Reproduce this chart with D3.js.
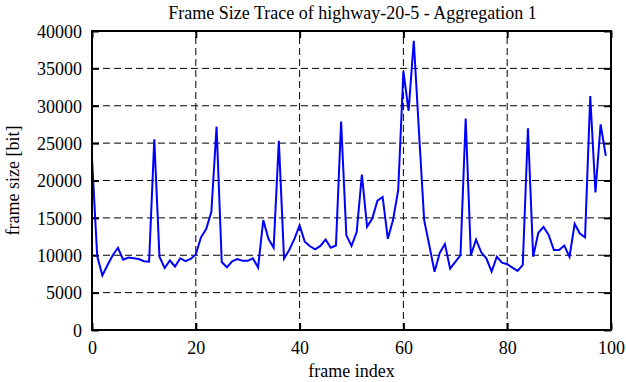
<!DOCTYPE html>
<html>
<head>
<meta charset="utf-8">
<script src="https://cdn.jsdelivr.net/npm/d3@7"></script>
<style>
    body { margin: 0; background: #fff; }
    text { font-family: "Liberation Serif", "DejaVu Serif", serif; }
</style>
</head>
<body>
<svg id="chart" width="626" height="382"></svg>
<script>
// frame size trace, one value per frame (bit)
var frames = d3.range(0, 100);
var frameSizes = [
    23000, 9900, 7300, 8700, 10000, 11000, 9400, 9700, 9600, 9500,
    9200, 9150, 25500, 9800, 8300, 9300, 8500, 9600, 9200, 9500,
    10100, 12400, 13500, 15800, 27200, 9100, 8400, 9200, 9500, 9250,
    9250, 9600, 8350, 14700, 12200, 11000, 25300, 9550, 10700, 12200,
    14000, 11800, 11200, 10800, 11250, 12100, 11000, 11300, 27900, 12700,
    11250, 13100, 20800, 13800, 14900, 17300, 17800, 12200, 14700, 18700,
    34600, 29300, 38700, 26500, 14700, 11300, 7800, 10300, 11500, 8200,
    9100, 10000, 28300, 10000, 12100, 10400, 9550, 7800, 9800, 9000,
    8800, 8350, 7900, 8700, 27000, 9800, 13000, 13800, 12700, 10700,
    10700, 11300, 9800, 14200, 12900, 12400, 31300, 18400, 27500, 23300
];
var xTicks = [0, 20, 40, 60, 80, 100];
var yTicks = [0, 5000, 10000, 15000, 20000, 25000, 30000, 35000, 40000];

var title = "Frame Size Trace of highway-20-5 - Aggregation 1";
var xLabel = "frame index";
var yLabel = "frame size [bit]";

var margin = {left: 92, right: 15, top: 31, bottom: 52};
var width = 626, height = 382;

var svg = d3.select("#chart");

var x = d3.scaleLinear()
    .domain([0, 100])
    .range([margin.left, width - margin.right]);
var y = d3.scaleLinear()
    .domain([0, 40000])
    .range([height - margin.bottom, margin.top]);

// dashed grid
svg.append("g")
    .selectAll("line")
    .data(yTicks.slice(1, -1))
    .enter()
    .append("line")
    .attr("x1", x(0)).attr("x2", x(100))
    .attr("y1", function(d) { return y(d); })
    .attr("y2", function(d) { return y(d); })
    .attr("stroke", "#000")
    .attr("stroke-width", 1)
    .attr("stroke-dasharray", "7,4");

svg.append("g")
    .selectAll("line")
    .data(xTicks.slice(1, -1))
    .enter()
    .append("line")
    .attr("y1", y(0)).attr("y2", y(40000))
    .attr("x1", function(d) { return x(d); })
    .attr("x2", function(d) { return x(d); })
    .attr("stroke", "#000")
    .attr("stroke-width", 1)
    .attr("stroke-dasharray", "7,4");

// axes, ticks pointing inward
var tickLen = 7;
var fmt = d3.format("d");
var axisLeft = svg.append("g")
    .attr("transform", "translate(" + x(0) + ",0)")
    .call(d3.axisLeft(y).tickValues(yTicks).tickSize(-tickLen).tickPadding(10).tickFormat(fmt));
var axisRight = svg.append("g")
    .attr("transform", "translate(" + x(100) + ",0)")
    .call(d3.axisRight(y).tickValues(yTicks).tickSize(-tickLen).tickFormat(""));
var axisBottom = svg.append("g")
    .attr("transform", "translate(0," + y(0) + ")")
    .call(d3.axisBottom(x).tickValues(xTicks).tickSize(-tickLen).tickPadding(10).tickFormat(fmt));
var axisTop = svg.append("g")
    .attr("transform", "translate(0," + y(40000) + ")")
    .call(d3.axisTop(x).tickValues(xTicks).tickSize(-tickLen).tickFormat(""));

[axisLeft, axisRight, axisBottom, axisTop].forEach(function(a) {
    a.select(".domain").remove();
    a.selectAll(".tick line").attr("stroke", "#000").attr("stroke-width", 2);
    a.selectAll("text")
        .attr("fill", "#000")
        .attr("font-size", "18px")
        .attr("font-family", "Liberation Serif, serif");
});
axisLeft.selectAll("text").attr("dy", "0.35em");
axisBottom.selectAll("text").attr("dy", "0.75em");

// the trace
var line = d3.line()
    .x(function(d, i) { return x(frames[i]); })
    .y(function(d) { return y(d); });

svg.append("path")
    .datum(frameSizes)
    .attr("d", line)
    .attr("fill", "none")
    .attr("stroke", "#0000ff")
    .attr("stroke-width", 2)
    .attr("stroke-linejoin", "miter");

// plot frame
svg.append("rect")
    .attr("x", x(0)).attr("y", y(40000))
    .attr("width", x(100) - x(0))
    .attr("height", y(0) - y(40000))
    .attr("fill", "none")
    .attr("stroke", "#000")
    .attr("stroke-width", 2);

// labels
svg.append("text")
    .attr("x", (x(0) + x(100)) / 2 + 1)
    .attr("y", 19)
    .attr("text-anchor", "middle")
    .attr("font-size", "18px")
    .text(title);

svg.append("text")
    .attr("x", (x(0) + x(100)) / 2)
    .attr("y", 377)
    .attr("text-anchor", "middle")
    .attr("font-size", "18px")
    .text(xLabel);

svg.append("text")
    .attr("transform", "translate(19," + ((y(0) + y(40000)) / 2) + ") rotate(-90)")
    .attr("text-anchor", "middle")
    .attr("font-size", "18px")
    .text(yLabel);
</script>
</body>
</html>
